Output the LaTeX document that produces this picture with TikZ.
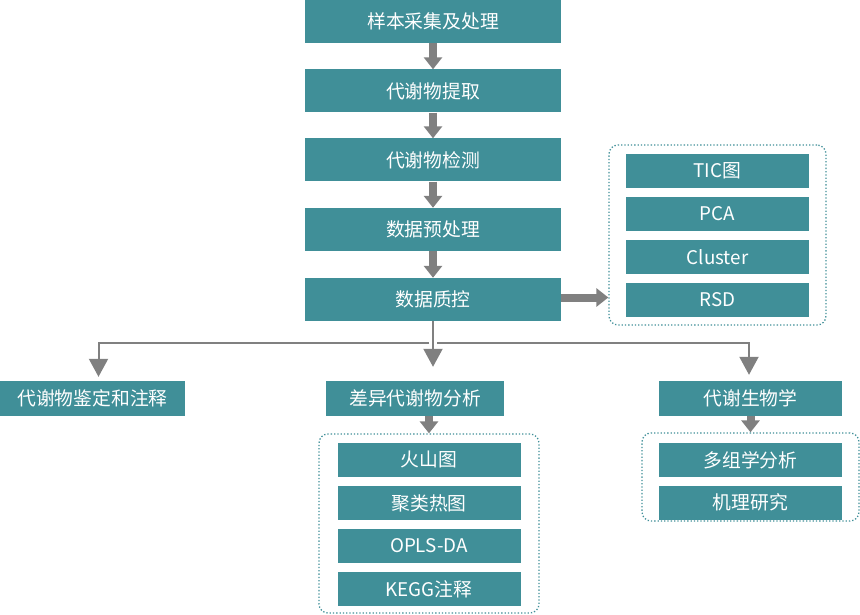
\documentclass[tikz,border=0pt]{standalone}
\usepackage{fontspec}
\setmainfont{Noto Sans CJK SC}
\usetikzlibrary{arrows.meta}
\definecolor{boxteal}{RGB}{64,143,152}
\definecolor{arrowgray}{RGB}{128,128,128}

\begin{document}
\begin{tikzpicture}[x=1pt,y=-1pt,
    box/.style={fill=boxteal, text=white, inner sep=0pt,
      minimum width=256pt, minimum height=43pt, font=\fontsize{18.8}{20}\selectfont},
    subbox/.style={box, minimum width=183pt, minimum height=34pt},
    frame/.style={draw=boxteal, dotted, line width=1.3pt, rounded corners=9pt, inner sep=0pt},
    fat/.style={draw=arrowgray, line width=8pt, -{Triangle[length=12pt,width=18pt]}},
    thin/.style={draw=arrowgray, line width=2pt, -{Triangle[length=18pt,width=19pt]}}]
  \useasboundingbox (0,0) rectangle (860,615);

  % main steps
  \node[box] (sample) at (433,21.5) {样本采集及处理};
  \node[box] (extract) at (433,91) {代谢物提取};
  \node[box] (detect) at (433,160) {代谢物检测};
  \node[box] (prep) at (433,229.5) {数据预处理};
  \node[box] (qc) at (433,299.5) {数据质控};

  % quality control
  \node[frame, minimum width=217pt, minimum height=180pt] (qcframe) at (717.5,235) {};
  \node[subbox] (tic) at (717.5,171) {TIC图};
  \node[subbox] (pca) at (717.5,214) {PCA};
  \node[subbox] (cluster) at (717.5,257) {Cluster};
  \node[subbox] (rsd) at (717.5,300) {RSD};

  % three branches
  \node[box, minimum width=185pt, minimum height=35pt] (ident) at (92.5,398.5) {代谢物鉴定和注释};
  \node[box, minimum width=178pt, minimum height=35pt] (diff) at (415,398.5) {差异代谢物分析};
  \node[box, minimum width=183pt, minimum height=35pt] (bio) at (750.5,398.5) {代谢生物学};

  \node[frame, minimum width=220pt, minimum height=179pt] (diffframe) at (429,523.5) {};
  \node[subbox] (volcano) at (429,459.5) {火山图};
  \node[subbox] (heatmap) at (429,503) {聚类热图};
  \node[subbox] (opls) at (429,545.5) {OPLS-DA};
  \node[subbox] (kegg) at (429,589) {KEGG注释};

  \node[frame, minimum width=217pt, minimum height=88pt] (bioframe) at (750.5,477) {};
  \node[subbox] (omics) at (750.5,460) {多组学分析};
  \node[subbox] (mech) at (750.5,502.5) {机理研究};

  % arrows
  \draw[fat] (sample) -- (extract);
  \draw[fat] (extract) -- (detect);
  \draw[fat] (detect) -- (prep);
  \draw[fat] (prep) -- (qc);
  \draw[fat] ([yshift=2pt]qc.east) -- ([yshift=2pt]qc.east -| qcframe.west);
  \draw[fat] ([xshift=14pt]diff.south) -- ([xshift=14pt]diff.south |- diffframe.north);
  \draw[fat] (bio) -- (bioframe);

  \draw[draw=arrowgray, line width=2pt] (qc.south) -- ++(0,22) coordinate (split);
  \draw[thin, shorten >=4pt] ([xshift=-4pt]split) -| ([xshift=6pt]ident.north);
  \draw[thin, shorten >=14pt] (split) -- (split |- diff.north);
  \draw[thin, shorten >=6pt] ([xshift=4pt]split) -| ([xshift=-1.5pt]bio.north);
\end{tikzpicture}
\end{document}
